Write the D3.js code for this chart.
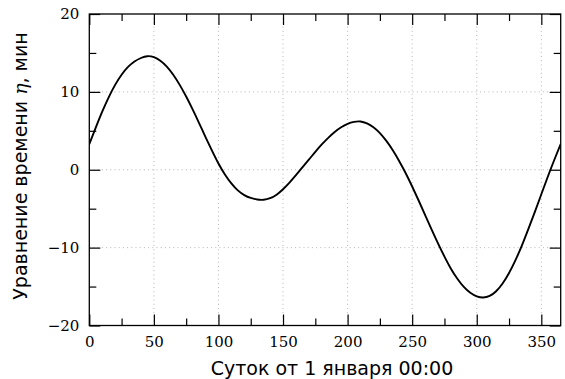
<!DOCTYPE html>
<html>
<head>
<meta charset="utf-8">
<script src="https://cdn.jsdelivr.net/npm/d3@7"></script>
<style>
  body { margin: 0; background: #fff; }
  svg { display: block; }
</style>
</head>
<body>
<div id="chart"></div>
<script>
// values (day of year, minutes)
var days = [0, 5, 10, 15, 20, 25, 30, 35, 40, 45, 50, 55, 60, 65, 70, 75, 80, 85, 90, 95,
    100, 105, 110, 115, 120, 125, 130, 135, 140, 145, 150, 155, 160, 165, 170, 175, 180, 185,
    190, 195, 200, 205, 210, 215, 220, 225, 230, 235, 240, 245, 250, 255, 260, 265, 270, 275,
    280, 285, 290, 295, 300, 305, 310, 315, 320, 325, 330, 335, 340, 345, 350, 355, 360, 365];
var eqTime = [3.3, 5.4, 7.45, 9.3, 10.9, 12.2, 13.2, 13.9, 14.35, 14.58, 14.45, 14.0, 13.25,
    12.2, 10.9, 9.4, 7.75, 6.0, 4.2, 2.45, 0.8, -0.6, -1.75, -2.65, -3.25, -3.62, -3.82, -3.85,
    -3.65, -3.2, -2.5, -1.65, -0.7, 0.3, 1.3, 2.3, 3.25, 4.1, 4.85, 5.45, 5.9, 6.15, 6.2,
    5.95, 5.45, 4.7, 3.7, 2.5, 1.1, -0.45, -2.15, -3.95, -5.8, -7.65, -9.45, -11.15, -12.7,
    -14.0, -15.05, -15.8, -16.25, -16.4, -16.2, -15.6, -14.6, -13.25, -11.6, -9.7, -7.6, -5.4,
    -3.15, -0.9, 1.25, 3.3];

var xTicks = [0, 50, 100, 150, 200, 250, 300, 350];
var xMinor = [25, 75, 125, 175, 225, 275, 325];
var yTicks = [-20, -10, 0, 10, 20];
var yMinor = [-15, -5, 5, 15];

var xTitle = "Суток от 1 января 00:00";
var yTitle = ["Уравнение времени ", "η", ", мин"];

var width = 565, height = 379;
var margin = { top: 14, right: 4.3, bottom: 53.5, left: 89.3 };
var w = width - margin.left - margin.right,
    h = height - margin.top - margin.bottom;

var svg = d3.select("#chart").append("svg")
    .attr("width", width)
    .attr("height", height);

var g = svg.append("g")
    .attr("transform", "translate(" + margin.left + "," + margin.top + ")");

var x = d3.scaleLinear().domain([0, 365]).range([0, w]);
var y = d3.scaleLinear().domain([-20, 20]).range([h, 0]);

// dotted grid
g.append("g").selectAll("line")
    .data(xTicks.filter(function (d) { return d > 0; }))
    .join("line")
    .attr("x1", function (d) { return x(d); })
    .attr("x2", function (d) { return x(d); })
    .attr("y1", 0).attr("y2", h)
    .attr("stroke", "#b5b5b5")
    .attr("stroke-width", 1)
    .attr("stroke-dasharray", "1,3.2");

g.append("g").selectAll("line")
    .data(yTicks.filter(function (d) { return d > -20 && d < 20; }))
    .join("line")
    .attr("x1", 0).attr("x2", w)
    .attr("y1", function (d) { return y(d); })
    .attr("y2", function (d) { return y(d); })
    .attr("stroke", "#b5b5b5")
    .attr("stroke-width", 1)
    .attr("stroke-dasharray", "1,3.2");

// curve
g.append("clipPath").attr("id", "clip")
    .append("rect").attr("width", w).attr("height", h);

var pts = days.map(function (d, i) { return [d, eqTime[i]]; });

g.append("path")
    .datum(pts)
    .attr("clip-path", "url(#clip)")
    .attr("fill", "none")
    .attr("stroke", "#000")
    .attr("stroke-width", 1.9)
    .attr("d", d3.line()
        .x(function (d) { return x(d[0]); })
        .y(function (d) { return y(d[1]); })
        .curve(d3.curveNatural));

// axes, ticks pointing inwards on every side
var fmt = function (d) { return d < 0 ? "\u2212" + Math.abs(d) : d; };
var major = 11, minor = 7;

function styleAxis(sel) {
    sel.select(".domain").remove();
    sel.selectAll(".tick line").attr("stroke", "#000").attr("stroke-width", 1.2);
    sel.selectAll("text")
        .attr("fill", "#000")
        .style("font-family", "'DejaVu Serif', serif")
        .style("font-size", "15px");
}

g.append("g").attr("transform", "translate(0," + h + ")")
    .call(d3.axisBottom(x).tickValues(xTicks).tickFormat(fmt).tickSize(-major).tickPadding(11))
    .call(styleAxis);
g.append("g").attr("transform", "translate(0," + h + ")")
    .call(d3.axisBottom(x).tickValues(xMinor).tickFormat("").tickSize(-minor))
    .call(styleAxis);
g.append("g")
    .call(d3.axisTop(x).tickValues(xTicks).tickFormat("").tickSize(-major))
    .call(styleAxis);
g.append("g")
    .call(d3.axisTop(x).tickValues(xMinor).tickFormat("").tickSize(-minor))
    .call(styleAxis);

g.append("g")
    .call(d3.axisLeft(y).tickValues(yTicks).tickFormat(fmt).tickSize(-major).tickPadding(10))
    .call(styleAxis);
g.append("g")
    .call(d3.axisLeft(y).tickValues(yMinor).tickFormat("").tickSize(-minor))
    .call(styleAxis);
g.append("g").attr("transform", "translate(" + w + ",0)")
    .call(d3.axisRight(y).tickValues(yTicks).tickFormat("").tickSize(-major))
    .call(styleAxis);
g.append("g").attr("transform", "translate(" + w + ",0)")
    .call(d3.axisRight(y).tickValues(yMinor).tickFormat("").tickSize(-minor))
    .call(styleAxis);

// frame
g.append("rect")
    .attr("width", w).attr("height", h)
    .attr("fill", "none")
    .attr("stroke", "#000")
    .attr("stroke-width", 1.3);

// titles
svg.append("text")
    .attr("x", 332)
    .attr("y", 375)
    .attr("text-anchor", "middle")
    .style("font-family", "'DejaVu Sans', sans-serif")
    .style("font-size", "19px")
    .text(xTitle);

var yt = svg.append("text")
    .attr("transform", "translate(27,166) rotate(-90)")
    .attr("text-anchor", "middle")
    .style("font-family", "'DejaVu Sans', sans-serif")
    .style("font-size", "19px");
yt.append("tspan").text(yTitle[0]);
yt.append("tspan").style("font-family", "'DejaVu Serif', serif").style("font-style", "italic").text(yTitle[1]);
yt.append("tspan").text(yTitle[2]);
</script>
</body>
</html>
